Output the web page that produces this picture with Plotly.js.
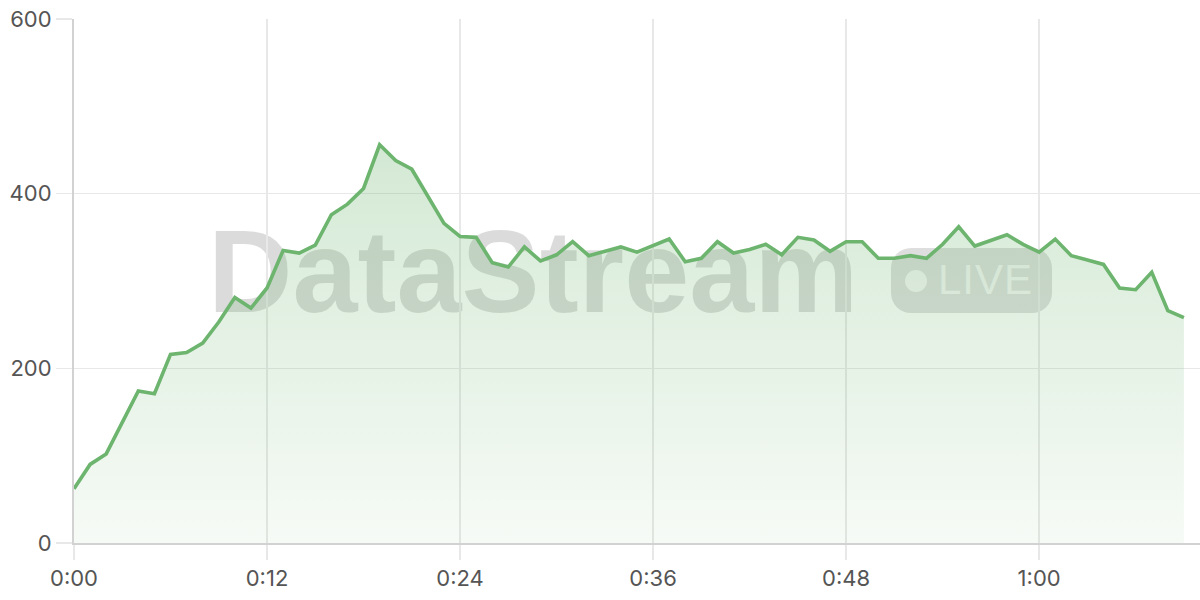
<!DOCTYPE html>
<html>
<head>
<meta charset="utf-8">
<script src="https://cdn.plot.ly/plotly-3.0.1.min.js"></script>
<style>
  html, body { margin: 0; padding: 0; background: #fff; }
  #wrap { position: relative; width: 1200px; height: 600px; }
  #mark { position: absolute; left: 0; top: 0; }
  #chart { position: absolute; left: 0; top: 0; width: 1200px; height: 600px; }
</style>
</head>
<body>
<div id="wrap">
  <svg id="mark" width="1200" height="600">
    <text x="208" y="312" font-family="Liberation Sans, Arial, sans-serif" font-weight="bold" font-size="117" fill="rgba(0,0,0,0.14)">DataStream</text>
    <rect x="891" y="248" width="161" height="65" rx="20" ry="20" fill="rgba(0,0,0,0.13)"></rect>
    <circle cx="916" cy="281" r="11" fill="rgba(255,255,255,0.72)"></circle>
    <text x="938" y="294" font-family="Liberation Sans, Arial, sans-serif" font-size="42" letter-spacing="1" fill="rgba(255,255,255,0.72)">LIVE</text>
  </svg>
  <div id="chart"></div>
</div>
<script>
// elapsed minutes
var minutes = [0, 1, 2, 3, 4, 5, 6, 7, 8, 9, 10, 11, 12, 13, 14, 15, 16, 17, 18, 19,
  20, 21, 22, 23, 24, 25, 26, 27, 28, 29, 30, 31, 32, 33, 34, 35, 36, 37, 38, 39,
  40, 41, 42, 43, 44, 45, 46, 47, 48, 49, 50, 51, 52, 53, 54, 55, 56, 57, 58, 59,
  60, 61, 62, 63, 64, 65, 66, 67, 68, 69];

var viewers = [62, 90, 102, 139, 174, 171, 216, 218, 229, 253,
  281, 269, 292, 335, 332, 341, 376, 388, 406, 456,
  438, 428, 397, 366, 351, 350, 321, 316, 339, 323,
  330, 345, 329, 334, 339, 333, 340, 348, 322, 326,
  345, 332, 336, 342, 330, 350, 347, 334, 345, 345,
  326, 326, 329, 326, 342, 362, 340, 346, 353, 342,
  333, 348, 329, 324, 319, 292, 290, 310, 266, 258];

var tickMinutes = [0, 12, 24, 36, 48, 60];
var tickLabels = ['0:00', '0:12', '0:24', '0:36', '0:48', '1:00'];
var yTicks = [0, 200, 400, 600];

var trace = {
  x: minutes,
  y: viewers,
  type: 'scatter',
  mode: 'lines',
  line: { color: '#6db56f', width: 3.6 },
  fill: 'tozeroy',
  fillgradient: {
    type: 'vertical',
    colorscale: [[0, 'rgba(109,181,111,0.06)'], [1, 'rgba(109,181,111,0.30)']]
  },
  hoverinfo: 'x+y'
};

var layout = {
  width: 1200,
  height: 600,
  margin: { l: 74, r: 0, t: 19, b: 57 },
  paper_bgcolor: 'rgba(0,0,0,0)',
  plot_bgcolor: 'rgba(0,0,0,0)',
  showlegend: false,
  font: { family: 'Inter, DejaVu Sans, sans-serif', size: 22, color: '#555' },
  xaxis: {
    range: [0, 70],
    tickvals: tickMinutes,
    ticktext: tickLabels,
    showgrid: true,
    gridcolor: '#e8e8e8',
    gridwidth: 1.5,
    ticks: 'outside',
    ticklen: 15,
    tickcolor: '#e8e8e8',
    tickwidth: 1.5,
    showline: true,
    linecolor: '#d2d2d2',
    linewidth: 2,
    zeroline: false,
    fixedrange: true
  },
  yaxis: {
    range: [0, 600],
    tickvals: yTicks,
    showgrid: true,
    gridcolor: '#e8e8e8',
    gridwidth: 1.5,
    ticks: 'outside',
    ticklen: 16,
    tickcolor: '#e8e8e8',
    tickwidth: 1.5,
    showline: true,
    linecolor: '#d2d2d2',
    linewidth: 2,
    zeroline: false,
    fixedrange: true
  }
};

Plotly.newPlot('chart', [trace], layout, { displayModeBar: false, staticPlot: true });
</script>
</body>
</html>
